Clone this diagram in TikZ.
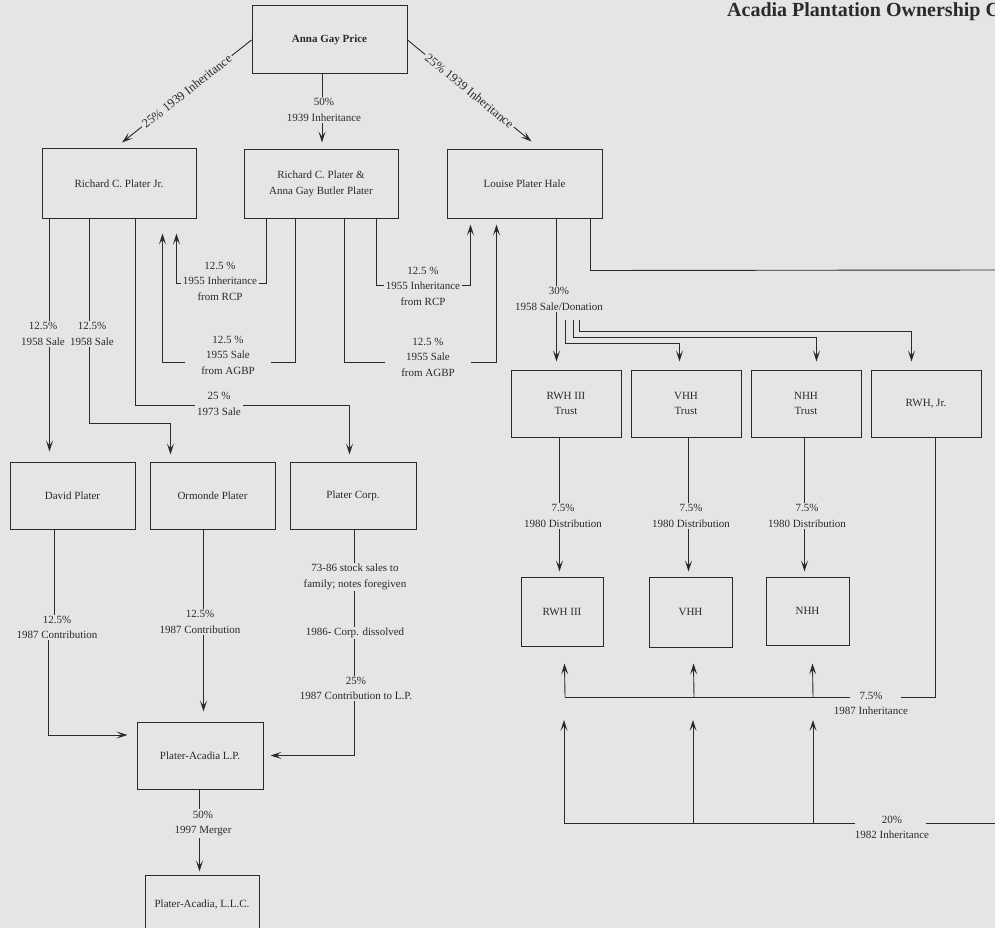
\documentclass[tikz,border=0pt]{standalone}
\usepackage{fontspec}
\setmainfont{Liberation Serif}
\usetikzlibrary{arrows.meta,calc}
\definecolor{bg}{RGB}{229,229,227}
\definecolor{ink}{RGB}{42,42,42}
\begin{document}
\begin{tikzpicture}[x=1pt,y=-1pt,
  every node/.style={font=\fontsize{11}{15.5}\selectfont, text=ink},
  box/.style={draw=ink, line width=1pt, fill=bg, inner sep=0pt, align=center},
  lbl/.style={fill=bg, inner xsep=2pt, inner ysep=1.5pt, align=center},
  slbl/.style={lbl, sloped, font=\fontsize{12.5}{15}\selectfont, inner ysep=1pt},
  plain/.style={inner sep=1pt, align=center},
  conn/.style={draw=ink, line width=0.9pt},
  arr/.style={conn, -{Stealth[length=11pt,width=7pt,inset=5pt]}},
]
\useasboundingbox (0,0) rectangle (995,928);
\clip (0,0) rectangle (995,928);
\fill[bg] (0,0) rectangle (995,928);

% title
\node[anchor=base west, inner sep=0pt, font=\bfseries\fontsize{20}{23}\selectfont] (title) at (727,17) {Acadia Plantation Ownership C};

% boxes
\node[box, minimum width=155pt, minimum height=68pt] (agp) at (329.5,40) {\textbf{Anna Gay Price}};
\node[box, minimum width=154pt, minimum height=69pt] (jr) at (119,183.5) {Richard C. Plater Jr.};
\node[box, minimum width=154pt, minimum height=68pt] (rcpab) at (321,184) {Richard C. Plater \&\\Anna Gay Butler Plater};
\node[box, minimum width=155pt, minimum height=68pt] (lph) at (524.5,184) {Louise Plater Hale};
\node[box, minimum width=125pt, minimum height=67pt] (david) at (72.5,495.5) {David Plater};
\node[box, minimum width=125pt, minimum height=67pt] (ormonde) at (212.5,495.5) {Ormonde Plater};
\node[box, minimum width=126pt, minimum height=67pt] (platercorp) at (353,495.5) {Plater Corp.};
\node[box, minimum width=126pt, minimum height=67pt] (lp) at (200,755.5) {Plater-Acadia L.P.};
\node[box, minimum width=114pt, minimum height=60pt] (llc) at (202,905) {Plater-Acadia, L.L.C.};
\node[box, minimum width=110pt, minimum height=67pt] (rwh3t) at (566,403.5) {RWH III\\Trust};
\node[box, minimum width=110pt, minimum height=67pt] (vhht) at (686,403.5) {VHH\\Trust};
\node[box, minimum width=110pt, minimum height=67pt] (nhht) at (806,403.5) {NHH\\Trust};
\node[box, minimum width=110pt, minimum height=67pt] (rwhjr) at (926,403.5) {RWH, Jr.};
\node[box, minimum width=82pt, minimum height=69pt] (rwh3) at (562,611.5) {RWH III};
\node[box, minimum width=83pt, minimum height=70pt] (vhh) at (690.5,612) {VHH};
\node[box, minimum width=83pt, minimum height=68pt] (nhh) at (807.5,611) {NHH};

% free-end coordinates
\coordinate (edgeA) at (1000,270);
\coordinate (edgeB) at (1000,823);
\coordinate (j87R) at (850,697);
\coordinate (j87L) at (565,697);
\coordinate (j87b) at (694,697);
\coordinate (j87c) at (813,697);
\coordinate (j82R) at (855,823);
\coordinate (j82E) at (926,823);
\coordinate (j82L) at (564,823);
\coordinate (j82b) at (693,823);
\coordinate (j82c) at (813,823);
\coordinate (t82a) at (564,720);
\coordinate (t82b) at (693,720);
\coordinate (t82c) at (813,720);

% 1939 inheritances
\draw[arr] (agp.west) -- node[slbl, pos=0.5] {25\% 1939 Inheritance} ($(jr.north)+(3,-6)$);
\draw[arr] (agp.east) -- node[slbl, pos=0.5] {25\% 1939 Inheritance} ($(lph.north)+(7,-8)$);
\draw[arr] ($(agp.south)+(-7.5,0)$) -- ($(rcpab.north)+(1,-7)$);

% from Richard C. Plater Jr.
\draw[arr] ($(jr.south west)+(8,0)$) -- ($(david.north west)+(40,-10)$);
\draw[arr] ($(jr.south west)+(48,0)$) -- ++(0,205) -| ($(ormonde.north west)+(21,-7)$);
\draw[arr] ($(jr.south west)+(94,0)$) -- ++(0,187) -| ($(platercorp.north west)+(60,-7)$);

% 1955 transfers
\draw[arr] ($(rcpab.south west)+(23,0)$) -- ++(0,65) -| ($(jr.south east)+(-20,15)$);
\draw[arr] ($(rcpab.south west)+(52,0)$) -- ++(0,144) -| ($(jr.south east)+(-34,15)$);
\draw[arr] ($(rcpab.south west)+(101,0)$) -- ++(0,144) -| ($(lph.south west)+(50,6)$);
\draw[arr] ($(rcpab.south west)+(133,0)$) -- ++(0,67) -| ($(lph.south west)+(24,6)$);

% Louise Plater Hale
\draw[arr] ($(lph.south west)+(110,0)$) -- ($(rwh3t.north west)+(46,-8)$);
\draw[conn] ($(lph.south west)+(144,0)$) -- ++(0,52) -- (edgeA);
\node[lbl] (l30) at (559,299) {30\%\\1958 Sale/Donation};
\draw[arr] ($(l30.center)+(6,21)$) -- ++(0,23) -| ($(vhht.north west)+(49,-8)$);
\draw[arr] ($(l30.center)+(14,21)$) -- ++(0,17) -| ($(nhht.north west)+(66,-8)$);
\draw[arr] ($(l30.center)+(20,21)$) -- ++(0,11) -| ($(rwhjr.north west)+(41,-8)$);

% 1980 distributions
\draw[arr] ($(rwh3t.south west)+(49,0)$) -- ($(rwh3.north west)+(39,-5)$);
\draw[arr] ($(vhht.south west)+(58,0)$) -- ($(vhh.north west)+(40,-5)$);
\draw[arr] ($(nhht.south west)+(54,0)$) -- ($(nhh.north west)+(39,-5)$);

% 1987 inheritance
\draw[conn] ($(rwhjr.south west)+(65,0)$) -- ++(0,260) -- ++(-35,0);
\draw[conn] (j87R) -- (j87L);
\draw[arr] (j87L) -- ($(rwh3.south west)+(44,17)$);
\draw[arr] (j87b) -- ($(vhh.south west)+(45,16)$);
\draw[arr] (j87c) -- ($(nhh.south west)+(47,18)$);
\node[plain] (l87) at (871,703.5) {7.5\%\\1987 Inheritance};

% 1982 inheritance
\draw[conn] (edgeB) -- (j82E);
\draw[conn] (j82R) -- (j82L);
\draw[arr] (j82L) -- (t82a);
\draw[arr] (j82b) -- (t82b);
\draw[arr] (j82c) -- (t82c);
\node[plain] (l82) at (892,827.5) {20\%\\1982 Inheritance};

% towards Plater-Acadia L.P.
\draw[arr] ($(david.south west)+(45,0)$) -- ++(0,98) -- ++(-6,0) |- ($(lp.west)+(-9,-20.5)$);
\draw[arr] ($(ormonde.south west)+(54,0)$) -- ($(lp.north west)+(67,-10)$);
\draw[arr] ($(platercorp.south west)+(65,0)$) |- ($(lp.east)+(7,0)$);
\draw[arr] ($(lp.south west)+(63,0)$) -- ($(llc.north west)+(55,-3)$);

% labels on connectors
\node[lbl] (l50) at (324,110) {50\%\\1939 Inheritance};
\node[lbl] (s1) at (43,334) {12.5\%\\1958 Sale};
\node[lbl] (s2) at (92,334) {12.5\%\\1958 Sale};
\node[lbl] (s3) at (219,404) {25 \%\\1973 Sale};
\node[lbl] (i1) at (220,281) {12.5 \%\\1955 Inheritance\\from RCP};
\node[lbl, inner xsep=16pt] (a1) at (228,355) {12.5 \%\\1955 Sale\\from AGBP};
\node[lbl, inner xsep=16pt] (a2) at (428,357) {12.5 \%\\1955 Sale\\from AGBP};
\node[lbl] (i2) at (423,286) {12.5 \%\\1955 Inheritance\\from RCP};
\node[lbl] (d1) at (563,516) {7.5\%\\1980 Distribution};
\node[lbl] (d2) at (691,516) {7.5\%\\1980 Distribution};
\node[lbl] (d3) at (807,516) {7.5\%\\1980 Distribution};
\node[lbl] (c1) at (57,627.5) {12.5\%\\1987 Contribution};
\node[lbl] (c2) at (200,622) {12.5\%\\1987 Contribution};
\node[lbl] (p1) at (355,577) {73-86 stock sales to\\family; notes foregiven};
\node[lbl] (p2) at (355,633) {1986- Corp. dissolved};
\node[lbl] (p3) at (356,688.5) {25\%\\1987 Contribution to L.P.};
\node[lbl] (m1) at (203,823.5) {50\%\\1997 Merger};
\end{tikzpicture}
\end{document}
